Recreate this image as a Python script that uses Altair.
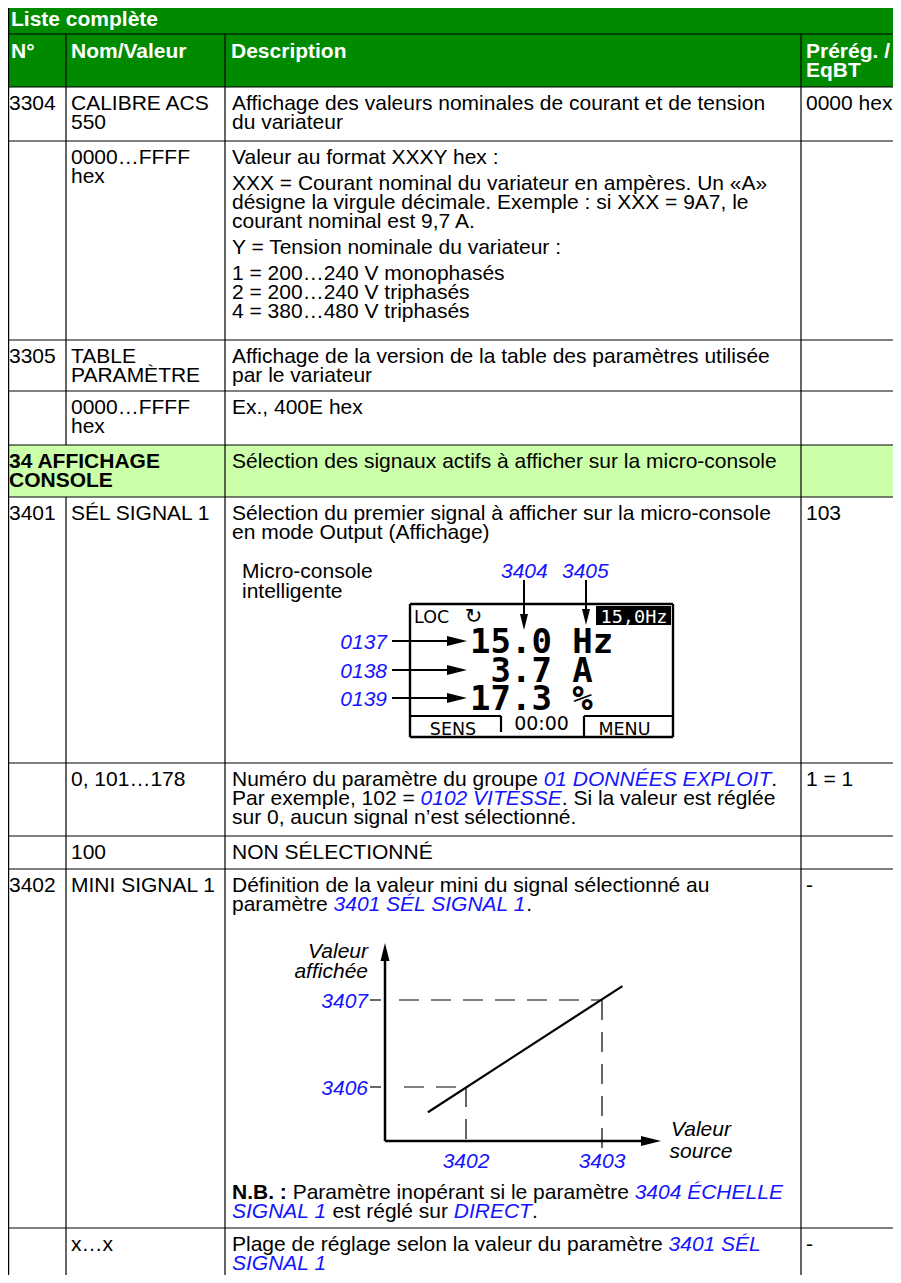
import altair as alt
import pandas as pd

# ------------------------------------------------------------------
# Content
# ------------------------------------------------------------------
TITLE = "Liste complète"
HEADER_CELLS = [["N°"], ["Nom/Valeur"], ["Description"], ["Prérég. /", "EqBT"]]

PARAM_NUMBERS = ["3304", "", "3305", "", "", "3401", "", "", "3402", ""]
PARAM_NAMES = [
    ["CALIBRE ACS", "550"],
    ["0000…FFFF", "hex"],
    ["TABLE", "PARAMÈTRE"],
    ["0000…FFFF", "hex"],
    [],
    ["SÉL SIGNAL 1"],
    ["0, 101…178"],
    ["100"],
    ["MINI SIGNAL 1"],
    ["x…x"],
]
GROUP_NAME = ["34 AFFICHAGE", "CONSOLE"]
DESCRIPTIONS = [
    [["Affichage des valeurs nominales de courant et de tension", "du variateur"]],
    [["Valeur au format XXXY hex :"],
     ["XXX = Courant nominal du variateur en ampères. Un «A»",
      "désigne la virgule décimale. Exemple : si XXX = 9A7, le",
      "courant nominal est 9,7 A."],
     ["Y = Tension nominale du variateur :"],
     ["1 = 200…240 V monophasés", "2 = 200…240 V triphasés",
      "4 = 380…480 V triphasés"]],
    [["Affichage de la version de la table des paramètres utilisée",
      "par le variateur"]],
    [["Ex., 400E hex"]],
    [["Sélection des signaux actifs à afficher sur la micro-console"]],
    [["Sélection du premier signal à afficher sur la micro-console",
      "en mode Output (Affichage)"]],
    [[[("Numéro du paramètre du groupe ", "n"), ("01 DONNÉES EXPLOIT", "i"), (".", "n")],
      [("Par exemple, 102 = ", "n"), ("0102 VITESSE", "i"),
       (". Si la valeur est réglée", "n")],
      "sur 0, aucun signal n’est sélectionné."]],
    [["NON SÉLECTIONNÉ"]],
    [["Définition de la valeur mini du signal sélectionné au",
      [("paramètre ", "n"), ("3401 SÉL SIGNAL 1", "i"), (".", "n")]]],
    [[[("Plage de réglage selon la valeur du paramètre ", "n"), ("3401 SÉL", "i")],
      [("SIGNAL 1", "i")]]],
]
DEFAULTS = ["0000 hex", "", "", "", "", "103", "1 = 1", "", "-", "-"]
NOTE_LINES = [
    [("N.B. :", "b"), (" Paramètre inopérant si le paramètre ", "n"), ("3404 ÉCHELLE", "i")],
    [("SIGNAL 1", "i"), (" est réglé sur ", "n"), ("DIRECT", "i"), (".", "n")],
]

# console figure
CONSOLE_CAPTION = ["Micro-console", "intelligente"]
CONSOLE_STATUS = ["LOC", "↻", "15,0Hz"]
CONSOLE_SIGNALS = ["0137", "0138", "0139"]
CONSOLE_VALUES = ["15.0 Hz", " 3.7 A", "17.3 %"]
CONSOLE_SCALE_PARAMS = ["3404", "3405"]
CONSOLE_KEYS = ["SENS", "00:00", "MENU"]

# scaling graph (u: source value, 3402 -> 0, 3403 -> 1 ; v: displayed, 3406 -> 0, 3407 -> 1)
GRAPH_Y_TITLE = ["Valeur", "affichée"]
GRAPH_X_TITLE = ["Valeur", "source"]
GRAPH_X_TICKS = ["3402", "3403"]
GRAPH_Y_TICKS = ["3406", "3407"]
GRAPH_LINE_U = [-0.28, 1.15]
GRAPH_LINE_V = [-0.29, 1.16]

# ------------------------------------------------------------------
# Layout (page pixels of the reference)
# ------------------------------------------------------------------
GREEN = "#008a00"
LIGHT_GREEN = "#ccffaa"
BLUE = "#1414ff"
TOP, TITLE_BOTTOM, HEADER_BOTTOM = 4, 36, 89
ROW_EDGES = [89, 143, 342, 393, 447, 499, 765, 838, 871, 1230, 1300]
COL_EDGES = [2, 62, 221, 797, 905]
TEXT_X = [5, 67, 228, 802]
FIRST_BASE, LINE_STEP, PARA_STEP = 23, 19, 26
FS = 21

W_REG = {
    " ": 278, ",": 278, ".": 278, ":": 278, "=": 584, "-": 333, "/": 278, "’": 222,
    "«": 556, "»": 556, "…": 1000,
    "A": 667, "B": 667, "C": 722, "D": 722, "E": 667, "F": 611, "G": 778, "H": 722,
    "I": 278, "J": 500, "K": 667, "L": 556, "M": 833, "N": 722, "O": 778, "P": 667,
    "Q": 778, "R": 722, "S": 667, "T": 611, "U": 722, "V": 667, "W": 944, "X": 667,
    "Y": 667, "Z": 611, "É": 667, "È": 667, "Ê": 667,
    "a": 556, "b": 556, "c": 500, "d": 556, "e": 556, "f": 278, "g": 556, "h": 556,
    "i": 222, "j": 222, "k": 500, "l": 222, "m": 833, "n": 556, "o": 556, "p": 556,
    "q": 556, "r": 333, "s": 500, "t": 278, "u": 556, "v": 500, "w": 722, "x": 500,
    "y": 500, "z": 500, "é": 556, "è": 556, "ê": 556, "à": 556,
}
for _d in "0123456789":
    W_REG[_d] = 556
W_BOLD = {"N": 722, ".": 278, "B": 722, " ": 278, ":": 333}


def text_width(s, style):
    table = W_BOLD if style == "b" else W_REG
    return sum(table.get(ch, 556) for ch in s) * FS / 1000.0


texts, rules, dashes, rects, heads = [], [], [], [], []


def add_text(x, y, s, style, align="left"):
    texts.append(dict(x=x, y=y, text=s, style=style, align=align))


def add_line(x, y, line, base_style="n"):
    if isinstance(line, str):
        line = [(line, base_style)]
    for seg, st in line:
        lead = len(seg) - len(seg.lstrip(" "))
        if seg.strip():
            add_text(x + text_width(seg[:lead], st), y, seg.strip(), st)
        x += text_width(seg, st)


def rule(x, y, x2, y2, w=1.2, dashed=False):
    (dashes if dashed else rules).append(dict(x=x, y=y, x2=x2, y2=y2, w=w))


def head(x, y, angle, size):
    heads.append(dict(x=x, y=y, a=angle, s=size))


# ---- fills
rects.append(dict(x=COL_EDGES[0], x2=COL_EDGES[-1], y=TOP, y2=HEADER_BOTTOM, fill=GREEN))
rects.append(dict(x=COL_EDGES[0], x2=COL_EDGES[-1], y=ROW_EDGES[4], y2=ROW_EDGES[5],
                  fill=LIGHT_GREEN))

# ---- header texts
add_text(7, 27.5, TITLE, "w")
for c, cell in enumerate(HEADER_CELLS):
    for k, s in enumerate(cell):
        add_text([7, 67, 227, 802][c], TITLE_BOTTOM + 23.5 + k * LINE_STEP, s, "w")

# ---- body rows
for r in range(len(PARAM_NUMBERS)):
    top = ROW_EDGES[r]
    base = top + FIRST_BASE
    if r == 4:
        for k, s in enumerate(GROUP_NAME):
            add_text(TEXT_X[0], base + k * LINE_STEP, s, "b")
    if PARAM_NUMBERS[r]:
        add_text(TEXT_X[0], base, PARAM_NUMBERS[r], "n")
    for k, s in enumerate(PARAM_NAMES[r]):
        add_text(TEXT_X[1], base + k * LINE_STEP, s, "n")
    y = base
    for p, para in enumerate(DESCRIPTIONS[r]):
        if p > 0:
            y += PARA_STEP - LINE_STEP
        for line in para:
            add_line(TEXT_X[2], y, line)
            y += LINE_STEP
    if DEFAULTS[r]:
        add_text(TEXT_X[3], base, DEFAULTS[r], "n")

for k, line in enumerate(NOTE_LINES):
    add_line(TEXT_X[2], 1201 + k * LINE_STEP, line)

# ---- grid lines
rule(4.6, TOP, 4.6, ROW_EDGES[-1])
for yy in [TOP, TITLE_BOTTOM] + ROW_EDGES[:-1]:
    rule(COL_EDGES[0], yy, COL_EDGES[-1], yy)
rule(COL_EDGES[1], TITLE_BOTTOM, COL_EDGES[1], ROW_EDGES[4])
rule(COL_EDGES[1], ROW_EDGES[5], COL_EDGES[1], ROW_EDGES[-1])
for c in (2, 3):
    rule(COL_EDGES[c], TITLE_BOTTOM, COL_EDGES[c], ROW_EDGES[-1])

# ---- console figure
for k, s in enumerate(CONSOLE_CAPTION):
    add_text(238, 579.5 + k * 20, s, "n")
for s, xx in zip(CONSOLE_SCALE_PARAMS, [497, 558]):
    add_text(xx, 579.5, s, "i")
BX0, BX1, BY0, BY1 = 406, 669, 606, 739
rule(BX0, BY0, BX1, BY0, 2.4)
rule(BX0, BY1, BX1, BY1, 2.4)
rule(BX0, BY0, BX0, BY1, 2.4)
rule(BX1, BY0, BX1, BY1, 2.4)
rects.append(dict(x=592, x2=667, y=608, y2=627, fill="black"))
add_text(410, 625, CONSOLE_STATUS[0], "lcd")
add_text(469.5, 625, CONSOLE_STATUS[1], "sym", "center")
add_text(630, 625, CONSOLE_STATUS[2], "lcdw", "center")
MONO_CELL = 34 * 0.602
for k, (sig, val, yc) in enumerate(zip(CONSOLE_SIGNALS, CONSOLE_VALUES, [643, 672, 700])):
    add_text(383, yc + 7.5, sig, "i", "right")
    rule(388, yc, 452, yc, 2)
    head(463, yc, 0, 400)
    lead = len(val) - len(val.lstrip(" "))
    add_text(466 + lead * MONO_CELL, yc + 12.2, val.strip(), "big")
for xx, tip in [(520, 632), (582, 627)]:
    rule(xx, 582, xx, tip - 10, 2)
    head(xx, tip, 90, 256)
rule(BX0, 718, 497, 718, 2.2)
rule(497, 718, 497, 734, 2.2)
rule(580, 718, BX1, 718, 2.2)
rule(580, 718, 580, BY1, 2.2)
add_text(449, 737, CONSOLE_KEYS[0], "lcd", "center")
add_text(537.5, 732, CONSOLE_KEYS[1], "clock", "center")
add_text(620.5, 737, CONSOLE_KEYS[2], "lcd", "center")


# ---- scaling graph
def gx(u):
    return 462 + 136 * u


def gy(v):
    return 1089 - 87 * v


OX, OY = 381, 1143
rule(OX, OY, OX, 960, 2.5)
head(OX, 945, 270, 324)
rule(OX, OY, 642, OY, 2.5)
head(657, OY, 0, 400)
for k, s in enumerate(GRAPH_Y_TITLE):
    add_text(364, 959.5 + k * 20, s, "k", "right")
for k, s in enumerate(GRAPH_X_TITLE):
    add_text(697, 1137.5 + k * 22, s, "k", "center")
for v, s in enumerate(GRAPH_Y_TICKS):
    add_text(364, gy(v) + 7.5, s, "i", "right")
    rule(366, gy(v), 377, gy(v), 1.2)
for u, s in enumerate(GRAPH_X_TICKS):
    add_text(gx(u), 1169.5, s, "i", "center")
    rule(gx(u), gy(u), gx(u), 1150, 1.2, dashed=True)
rule(395, gy(1), gx(1), gy(1), 1.2, dashed=True)
rule(400, gy(0), gx(0), gy(0), 1.2, dashed=True)
rule(gx(GRAPH_LINE_U[0]), gy(GRAPH_LINE_V[0]), gx(GRAPH_LINE_U[1]), gy(GRAPH_LINE_V[1]), 2.2)

# ------------------------------------------------------------------
# Chart
# ------------------------------------------------------------------
XS = alt.Scale(domain=[4, 889], nice=False, zero=False)
YS = alt.Scale(domain=[10, 1277], nice=False, zero=False, reverse=True)
X = alt.X("x:Q", scale=XS, axis=None)
Y = alt.Y("y:Q", scale=YS, axis=None)

STYLE_PROPS = {
    "n": dict(font="Liberation Sans", fontSize=FS, color="black"),
    "b": dict(font="Liberation Sans", fontSize=FS, fontWeight="bold", color="black"),
    "w": dict(font="Liberation Sans", fontSize=FS, fontWeight="bold", color="white"),
    "i": dict(font="Liberation Sans", fontSize=FS, fontStyle="italic", color=BLUE),
    "k": dict(font="Liberation Sans", fontSize=FS, fontStyle="italic", color="black"),
    "lcd": dict(font="DejaVu Sans", fontSize=17.5, color="black"),
    "sym": dict(font="DejaVu Sans", fontSize=21, color="black"),
    "lcdw": dict(font="DejaVu Sans Mono", fontSize=18.5, color="white"),
    "big": dict(font="DejaVu Sans Mono", fontSize=34, fontWeight="bold", color="black"),
    "clock": dict(font="DejaVu Sans", fontSize=19, color="black"),
}

layers = [
    alt.Chart(pd.DataFrame(rects)).mark_rect().encode(
        x=X, x2="x2:Q", y=Y, y2="y2:Q", color=alt.Color("fill:N", scale=None)),
    alt.Chart(pd.DataFrame(rules)).mark_rule(color="black").encode(
        x=X, x2="x2:Q", y=Y, y2="y2:Q", size=alt.Size("w:Q", scale=None)),
    alt.Chart(pd.DataFrame(dashes)).mark_rule(color="black", strokeDash=[20, 12]).encode(
        x=X, x2="x2:Q", y=Y, y2="y2:Q", size=alt.Size("w:Q", scale=None)),
    alt.Chart(pd.DataFrame(heads)).mark_point(
        shape="M0,0L-2,-0.5L-2,0.5Z", filled=True, color="black", opacity=1).encode(
        x=X, y=Y, size=alt.Size("s:Q", scale=None), angle=alt.Angle("a:Q", scale=None)),
]

tdf = pd.DataFrame(texts)
for (style, align), grp in tdf.groupby(["style", "align"]):
    layers.append(
        alt.Chart(grp.reset_index(drop=True)).mark_text(
            align=align, baseline="alphabetic", **STYLE_PROPS[style]
        ).encode(x=X, y=Y, text="text:N")
    )

chart = alt.layer(*layers).properties(
    width=885, height=1267, padding=0,
    autosize=alt.AutoSizeParams(type="none"), background="white",
).configure_view(strokeWidth=0)

chart.save("out.html", embed_options={"renderer": "svg", "actions": False})
